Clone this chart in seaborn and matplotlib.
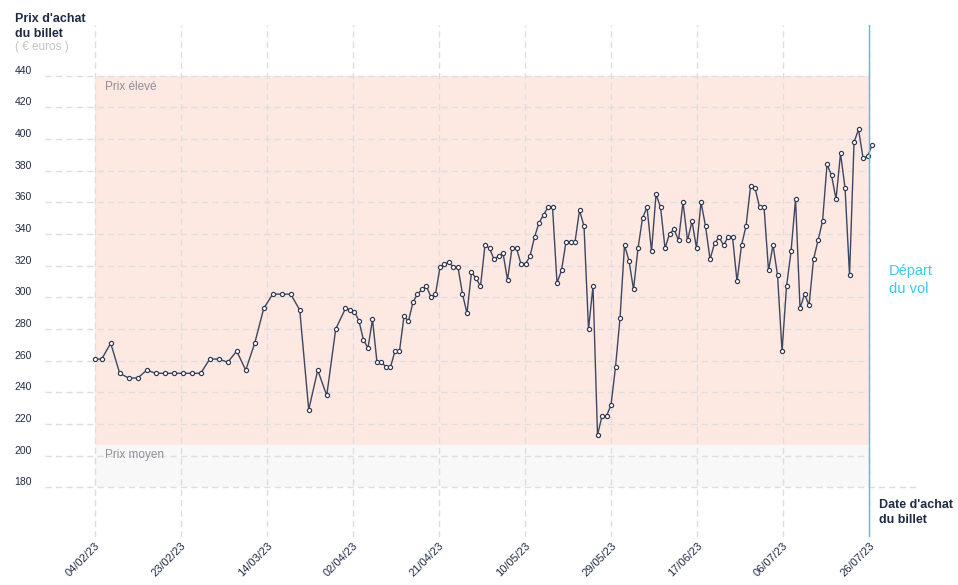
import matplotlib
matplotlib.use("Agg")
import matplotlib.pyplot as plt
import matplotlib.dates as mdates
import numpy as np
import pandas as pd
import seaborn as sns

# prix relevés tous les deux jours au début, puis chaque jour
prix_debut = [261, 261, 271, 252, 249, 249, 254, 252, 252, 252, 252, 252, 252, 261,
              261, 259, 266, 254, 271, 293, 302, 302, 302, 292, 229, 254, 238, 280]
prix_jour = [293, 292, 291, 285, 273, 268, 286, 259, 259, 256, 256, 266, 266, 288,
             285, 297, 302, 305, 307, 300, 302, 319, 321, 322, 319, 319, 302, 290,
             316, 312, 307, 333, 331, 324, 326, 328, 311, 331, 331, 321, 321, 326,
             338, 347, 352, 357, 357, 309, 317, 335, 335, 335, 355, 345, 280, 307,
             213, 225, 225, 232, 256, 287, 333, 323, 305, 331, 350, 357, 329, 365,
             357, 331, 340, 343, 336, 360, 336, 348, 331, 360, 345, 324, 334, 338,
             333, 338, 338, 310, 333, 345, 370, 369, 357, 357, 317, 333, 314, 266,
             307, 329, 362, 293, 302, 295, 324, 336, 348, 384, 377, 362, 391, 369,
             314, 398, 406, 388, 389, 396]

dates_debut = pd.DatetimeIndex(["2023-02-04"]).append(
    pd.date_range("2023-02-05 12:00", periods=len(prix_debut) - 1, freq="2D"))
dates_jour = pd.date_range("2023-03-31 16:00", periods=len(prix_jour), freq="D")

debut = pd.Timestamp("2023-02-04")
depart = pd.Timestamp("2023-07-26")

tick_labels = ["04/02/23", "23/02/23", "14/03/23", "02/04/23", "21/04/23",
               "10/05/23", "29/05/23", "17/06/23", "06/07/23", "26/07/23"]
y_ticks = [180, 200, 220, 240, 260, 280, 300, 320, 340, 360, 380, 400, 420, 440]

zone_eleve = (207, 440)
zone_moyen = (180, 207)

df = pd.DataFrame({"date": dates_debut.append(dates_jour),
                   "prix": prix_debut + prix_jour})

sns.set_style("white")
plt.rcParams["font.family"] = ["Liberation Sans", "DejaVu Sans"]

navy = "#1f2a44"
bleu = "#3dc8f0"
grille = "#dedede"

fig = plt.figure(figsize=(9.58, 5.85), dpi=100)
ax = fig.add_axes([45 / 958, 48 / 585, 874 / 958, 512 / 585])

x0 = mdates.date2num(debut - pd.Timedelta(days=11.1))
x1 = mdates.date2num(debut + pd.Timedelta(days=183.1))
xd = mdates.date2num(debut)
xf = mdates.date2num(depart)
ax.set_xlim(x0, x1)
ax.set_ylim(148.6, 472)

# zones de prix
ax.fill_between([xd, xf], *zone_eleve, color="#fee8e2", lw=0, zorder=0)
ax.fill_between([xd, xf], *zone_moyen, color="#f8f8f8", lw=0, zorder=0)

# grille pointillée
tick_pos = np.linspace(xd, xf, len(tick_labels))
for t in tick_pos:
    ax.axvline(t, color=grille, lw=1, dashes=(4.5, 3), zorder=1)
for v in y_ticks:
    fin = x1 if v == y_ticks[0] else xf
    ax.plot([x0, fin], [v, v], color=grille, lw=1, dashes=(4.5, 3), zorder=1)

sns.lineplot(data=df, x="date", y="prix", ax=ax, color="#3d4760", lw=1,
             marker="o", markersize=3.0, markerfacecolor="white",
             markeredgecolor="#2d3850", markeredgewidth=0.85, zorder=4)

ax.axvline(xf, color=bleu, lw=1, zorder=5)

ax.text(xd + 2.3, 433, "Prix élevé", fontsize=8.5, color="#8e8e98", va="center", zorder=3)
ax.text(xd + 2.3, 200.5, "Prix moyen", fontsize=8.5, color="#8e8e98", va="center", zorder=3)

ax.set_xticks(tick_pos)
ax.set_xticklabels(tick_labels, rotation=45, ha="right", rotation_mode="anchor",
                   fontsize=8, color=navy)
ax.set_yticks(y_ticks)
ax.set_yticklabels([str(v) for v in y_ticks], fontsize=7.5, color=navy)
plt.setp(ax.get_yticklabels(), va="bottom")
ax.tick_params(axis="x", length=0, pad=2.5)
ax.tick_params(axis="y", length=0, pad=9.5)
ax.set_xlabel("")
ax.set_ylabel("")
for s in ax.spines.values():
    s.set_visible(False)

fig.text(15 / 958, 1 - 13 / 585, "Prix d'achat\ndu billet", fontsize=9,
         fontweight="bold", color=navy, va="top", linespacing=1.3)
fig.text(15 / 958, 1 - 47 / 585, "( € euros )", fontsize=8.5, color="#c3c3c3", va="center")
fig.text(879 / 958, 1 - 499 / 585, "Date d'achat\ndu billet", fontsize=9,
         fontweight="bold", color=navy, va="top", linespacing=1.3)
fig.text(889 / 958, 1 - 280 / 585, "Départ\ndu vol", fontsize=10.5, color=bleu,
         va="center", linespacing=1.45)

fig.savefig("out.png", dpi=100)
